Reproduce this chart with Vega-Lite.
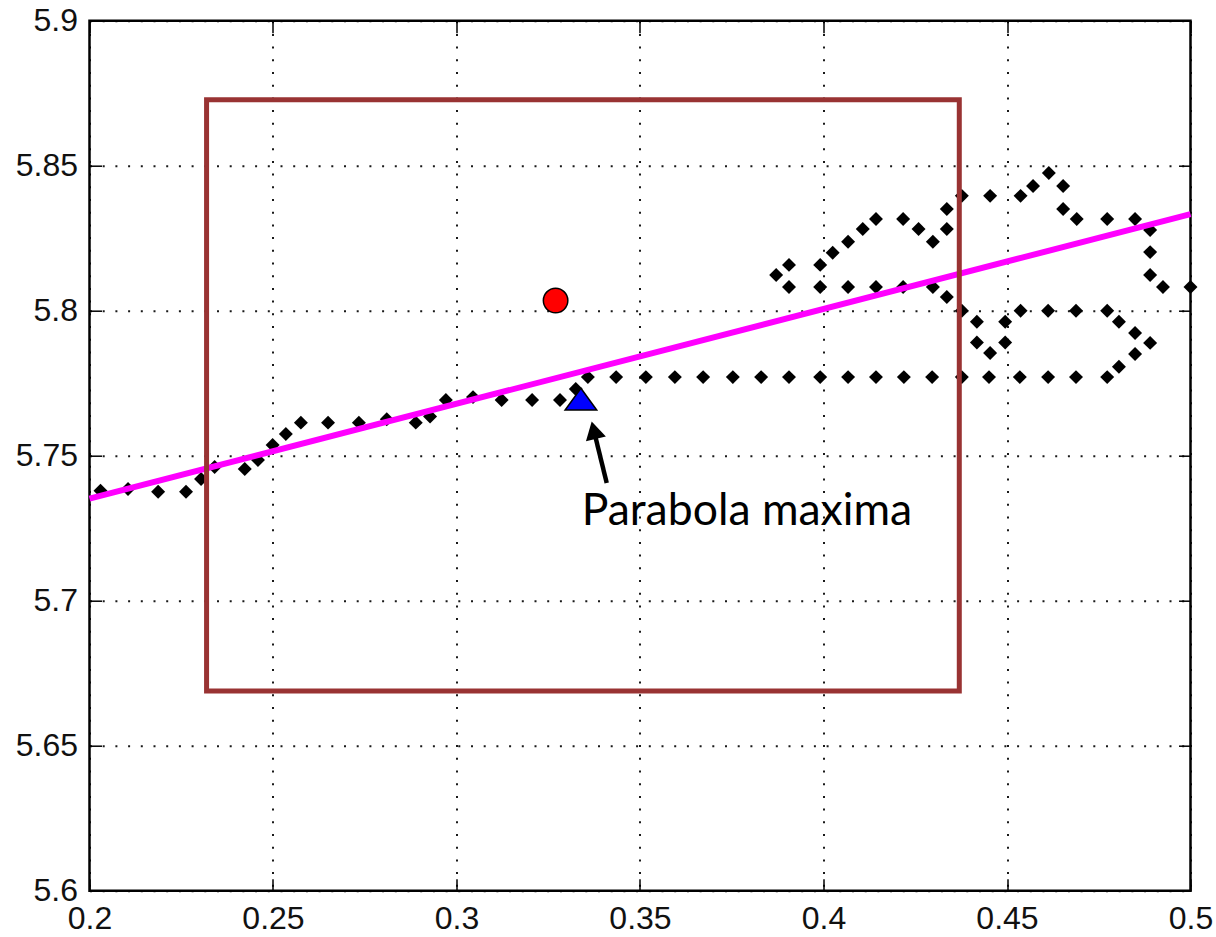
{
  "$schema": "https://vega.github.io/schema/vega-lite/v6.json",
  "width": 1101,
  "height": 870,
  "autosize": {"type": "none"},
  "padding": {"left": 89.5, "top": 20.7, "right": 25.5, "bottom": 46.3},
  "background": "white",
  "config": {
    "view": {"stroke": "#000", "strokeWidth": 2.5},
    "axis": {
      "labelFont": "Liberation Sans",
      "labelFontSize": 32,
      "labelColor": "#111",
      "tickColor": "#000",
      "tickSize": -12,
      "tickWidth": 1.5,
      "domain": false,
      "grid": false,
      "gridColor": "#000",
      "gridDash": [2, 10.7],
      "gridWidth": 2,
      "gridOpacity": 0.9,
      "title": null
    }
  },
  "datasets": {
    "pts": [
      {"x":0.2030,"y":5.7379},{"x":0.2105,"y":5.7385},{"x":0.2187,"y":5.7376},{"x":0.2263,"y":5.7376},{"x":0.2304,"y":5.7420},{"x":0.2341,"y":5.7461},{"x":0.2423,"y":5.7454},{"x":0.2459,"y":5.7485},{"x":0.2499,"y":5.7537},{"x":0.2535,"y":5.7575},{"x":0.2576,"y":5.7614},{"x":0.2650,"y":5.7614},{"x":0.2734,"y":5.7614},{"x":0.2810,"y":5.7626},{"x":0.2889,"y":5.7614},{"x":0.2928,"y":5.7635},{"x":0.2971,"y":5.7692},{"x":0.3045,"y":5.7702},{"x":0.3123,"y":5.7692},{"x":0.3206,"y":5.7692},{"x":0.3282,"y":5.7692},{"x":0.3325,"y":5.7730},{"x":0.3358,"y":5.7771},{"x":0.3435,"y":5.7771},{"x":0.3516,"y":5.7771},{"x":0.3595,"y":5.7771},{"x":0.3672,"y":5.7771},{"x":0.3753,"y":5.7771},{"x":0.3830,"y":5.7771},{"x":0.3906,"y":5.7771},{"x":0.3991,"y":5.7771},{"x":0.4067,"y":5.7771},{"x":0.4143,"y":5.7771},{"x":0.4219,"y":5.7771},{"x":0.4296,"y":5.7771},{"x":0.4377,"y":5.7771},{"x":0.4451,"y":5.7771},{"x":0.4535,"y":5.7771},{"x":0.4612,"y":5.7771},{"x":0.4688,"y":5.7771},{"x":0.4773,"y":5.7771},{"x":0.4805,"y":5.7807},{"x":0.4849,"y":5.7851},{"x":0.4890,"y":5.7889},{"x":0.4849,"y":5.7923},{"x":0.4805,"y":5.7962},{"x":0.4773,"y":5.8000},{"x":0.4688,"y":5.8000},{"x":0.4612,"y":5.8000},{"x":0.4537,"y":5.8000},{"x":0.4495,"y":5.7962},{"x":0.4495,"y":5.7890},{"x":0.4454,"y":5.7854},{"x":0.4418,"y":5.7890},{"x":0.4418,"y":5.7962},{"x":0.4377,"y":5.8000},{"x":0.4336,"y":5.8047},{"x":0.4298,"y":5.8082},{"x":0.4217,"y":5.8082},{"x":0.4143,"y":5.8082},{"x":0.4067,"y":5.8082},{"x":0.3991,"y":5.8082},{"x":0.3906,"y":5.8082},{"x":0.3871,"y":5.8123},{"x":0.3906,"y":5.8158},{"x":0.3991,"y":5.8158},{"x":0.4025,"y":5.8200},{"x":0.4067,"y":5.8238},{"x":0.4107,"y":5.8282},{"x":0.4143,"y":5.8316},{"x":0.4217,"y":5.8316},{"x":0.4259,"y":5.8282},{"x":0.4298,"y":5.8238},{"x":0.4336,"y":5.8282},{"x":0.4336,"y":5.8351},{"x":0.4377,"y":5.8396},{"x":0.4454,"y":5.8396},{"x":0.4537,"y":5.8396},{"x":0.4571,"y":5.8430},{"x":0.4614,"y":5.8475},{"x":0.4653,"y":5.8430},{"x":0.4653,"y":5.8351},{"x":0.4690,"y":5.8316},{"x":0.4773,"y":5.8316},{"x":0.4849,"y":5.8316},{"x":0.4890,"y":5.8278},{"x":0.4890,"y":5.8202},{"x":0.4890,"y":5.8123},{"x":0.4925,"y":5.8082},{"x":0.5000,"y":5.8082}
    ],
    "fit": [{"x":0.2,"y":5.7352},{"x":0.5,"y":5.8333}],
    "box": [{"x1":0.2319,"x2":0.4370,"y1":5.6689,"y2":5.8727}],
    "circle": [{"x":0.3270,"y":5.8035}],
    "tri": [{"x":0.3339,"y":5.7695}],
    "arrow": [{"x1":0.34093,"y1":5.74059,"x2":0.33741,"y2":5.75879}],
    "head": [{"x":0.33741,"y":5.75879}],
    "label": [{"x":0.3341,"y":5.7261,"text":"Parabola maxima"}]
  },
  "resolve": {"axis": {"x": "independent", "y": "independent"}},
  "layer": [
    {
      "data": {"name": "pts"},
      "mark": {"type": "point", "shape": "diamond", "filled": true, "color": "#000", "size": 195, "opacity": 1},
      "encoding": {
        "x": {"field": "x", "type": "quantitative", "scale": {"domain": [0.2, 0.5], "nice": false, "zero": false},
              "axis": {"orient": "bottom", "values": [0.2,0.25,0.3,0.35,0.4,0.45,0.5], "format": "~g", "grid": true, "labelPadding": 25, "labelFlush": false}},
        "y": {"field": "y", "type": "quantitative", "scale": {"domain": [5.6, 5.9], "nice": false, "zero": false},
              "axis": {"orient": "left", "values": [5.6,5.65,5.7,5.75,5.8,5.85,5.9], "format": "~g", "grid": true, "labelPadding": 24, "labelFlush": false}}
      }
    },
    {
      "data": {"name": "fit"},
      "mark": {"type": "line", "color": "#ff00ff", "strokeWidth": 6},
      "encoding": {
        "x": {"field": "x", "type": "quantitative", "axis": null},
        "y": {"field": "y", "type": "quantitative", "axis": null}
      }
    },
    {
      "data": {"name": "box"},
      "mark": {"type": "rect", "fill": null, "fillOpacity": 0, "stroke": "#993333", "strokeWidth": 5},
      "encoding": {
        "x": {"field": "x1", "type": "quantitative",
              "axis": {"orient": "top", "values": [0.2,0.25,0.3,0.35,0.4,0.45,0.5], "labels": false, "grid": false}},
        "x2": {"field": "x2"},
        "y": {"field": "y1", "type": "quantitative",
              "axis": {"orient": "right", "values": [5.6,5.65,5.7,5.75,5.8,5.85,5.9], "labels": false, "grid": false}},
        "y2": {"field": "y2"}
      }
    },
    {
      "data": {"name": "circle"},
      "mark": {"type": "point", "shape": "circle", "filled": true, "fill": "#ff0000", "stroke": "#000", "strokeWidth": 1.5, "size": 600, "opacity": 1},
      "encoding": {
        "x": {"field": "x", "type": "quantitative", "axis": null},
        "y": {"field": "y", "type": "quantitative", "axis": null}
      }
    },
    {
      "data": {"name": "tri"},
      "mark": {"type": "point", "shape": "M0,-0.69L1,0.69L-1,0.69Z", "filled": true, "fill": "#0000ff", "stroke": "#000", "strokeWidth": 1.5, "size": 1000, "opacity": 1},
      "encoding": {
        "x": {"field": "x", "type": "quantitative", "axis": null},
        "y": {"field": "y", "type": "quantitative", "axis": null}
      }
    },
    {
      "data": {"name": "arrow"},
      "mark": {"type": "rule", "color": "#000", "strokeWidth": 4.5},
      "encoding": {
        "x": {"field": "x1", "type": "quantitative", "axis": null},
        "y": {"field": "y1", "type": "quantitative", "axis": null},
        "x2": {"field": "x2"},
        "y2": {"field": "y2"}
      }
    },
    {
      "data": {"name": "head"},
      "mark": {"type": "point", "shape": "triangle-up", "filled": true, "color": "#000", "size": 420, "angle": -13.75, "opacity": 1},
      "encoding": {
        "x": {"field": "x", "type": "quantitative", "axis": null},
        "y": {"field": "y", "type": "quantitative", "axis": null}
      }
    },
    {
      "data": {"name": "label"},
      "mark": {"type": "text", "font": "Lato", "fontSize": 44.5, "align": "left", "baseline": "alphabetic", "color": "#000"},
      "encoding": {
        "x": {"field": "x", "type": "quantitative", "axis": null},
        "y": {"field": "y", "type": "quantitative", "axis": null},
        "text": {"field": "text"}
      }
    }
  ]
}
